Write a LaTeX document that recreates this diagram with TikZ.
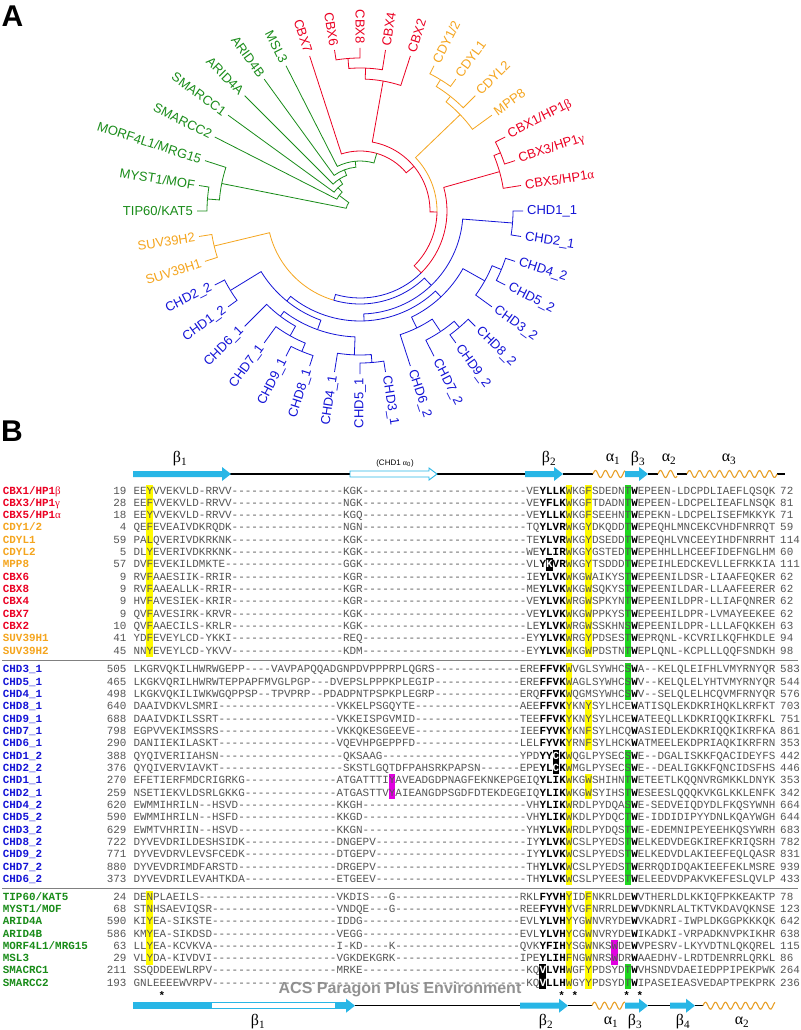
\documentclass[tikz,border=0pt]{standalone}
\usepackage{fontspec}
\setmainfont{Liberation Sans}
\setmonofont{Liberation Mono}
\newfontfamily\grk{Liberation Serif}
\definecolor{cR}{RGB}{235,0,35}
\definecolor{cO}{RGB}{245,165,30}
\definecolor{cG}{RGB}{25,140,25}
\definecolor{cB}{RGB}{20,20,215}
\definecolor{cCy}{RGB}{40,182,230}
\definecolor{hY}{RGB}{255,250,0}
\definecolor{hG}{RGB}{30,215,30}
\definecolor{hM}{RGB}{225,0,225}
\definecolor{sq}{RGB}{85,85,85}
\definecolor{wv}{RGB}{232,160,40}
\ExplSyntaxOn
\cs_new:Npn \dsh #1 { \prg_replicate:nn {#1} {-\kern0pt} }
\ExplSyntaxOff
\newcommand\bb[1]{{\bfseries\color{black}#1}}
\newcommand\wb[1]{{\bfseries\color{white}#1}}
\newcommand\gb[1]{{\grk\mdseries #1}}
\tikzset{
 tline/.style={line width=0.8pt},
 tlab/.style={font=\fontsize{13}{13}\selectfont, inner sep=0pt},
 alab/.style={anchor=base west, inner sep=0pt, font=\ttfamily\bfseries\fontsize{10.9}{12}\selectfont, yshift=-3.3pt},
 anum/.style={anchor=base east, inner sep=0pt, text=sq, font=\ttfamily\fontsize{10.9}{12}\selectfont, yshift=-3.3pt},
 aseq/.style={anchor=base west, inner sep=0pt, text=sq, font=\ttfamily\fontsize{10.915}{12}\selectfont, yshift=-3.3pt},
 aend/.style={anchor=base west, inner sep=0pt, text=sq, font=\ttfamily\fontsize{10.9}{12}\selectfont, yshift=-3.3pt},
 sslab/.style={inner sep=0pt, font=\grk\fontsize{16}{16}\selectfont},
 panel/.style={inner sep=0pt, font=\bfseries\fontsize{30}{30}\selectfont},
}
% tree connector: color, child angle, child radius, node angle, node radius
\newcommand\lk[5]{\draw[tline,#1] ([shift={(#2:#3pt)}]C) -- ([shift={(#2:#5pt)}]C) arc[start angle=#2, end angle=#4, radius=#5pt];}
% alignment row
\newcommand\arow[7]{%
 \node[alab, text=#3] (#1l) at (2.7,-#2) {#4};
 \node[anum] (#1n) at (126.7,-#2) {#5};
 \node[aseq] (#1s) at (133.3,-#2) {#6};
 \node[aend] (#1e) at (780,-#2) {#7};}
\newcommand\hl[4]{\fill[#1] ({133.3+6.55*#2},{-#3+6.2}) rectangle ({133.3+6.55*(#2+1)},{-#4-6.2});}
\newcommand\sarr[3]{\fill[cCy] (#1,{#3+3}) -- ({#2-9},{#3+3}) -- ({#2-9},{#3+7}) -- (#2,#3) -- ({#2-9},{#3-7}) -- ({#2-9},{#3-3}) -- (#1,{#3-3}) -- cycle;}
\newcommand\oarr[3]{\draw[cCy, fill=white, line width=0.9pt] (#1,{#3+3}) -- ({#2-8},{#3+3}) -- ({#2-8},{#3+6}) -- (#2,#3) -- ({#2-8},{#3-6}) -- ({#2-8},{#3-3}) -- (#1,{#3-3}) -- cycle;}
\newcommand\wave[3]{\draw[wv, line width=1.1pt] plot[variable=\t, domain=#1:#2, samples=90, smooth] (\t,{#3+3.5*sin(36*(\t-#1))});}
\newcommand\bln[3]{\draw[black, line width=1.3pt] (#1,#3) -- (#2,#3);}
\begin{document}
\begin{tikzpicture}[x=1pt,y=1pt]
\useasboundingbox (0,0) rectangle (800,-1030);
\fill[white] (0,0) rectangle (800,-1030);
\coordinate (C) at (360,-211);
\node[panel] (pA) at (12.5,-16.5) {A};
\node[panel] (pB) at (12,-431.5) {B};
% ---------------- tree ----------------
% green terminal
\lk{cG}{180}{163}{175.5}{153} \lk{cG}{171}{163}{175.5}{153}
\lk{cG}{175.5}{153}{168.75}{141} \lk{cG}{162}{163}{168.75}{141}
% red Pc
\lk{cR}{99}{163}{94.5}{153} \lk{cR}{90}{163}{94.5}{153}
\lk{cR}{94.5}{153}{87.75}{143} \lk{cR}{81}{163}{87.75}{143}
\lk{cR}{87.75}{143}{79.9}{132} \lk{cR}{72}{163}{79.9}{132}
% orange CDY
\lk{cO}{63}{163}{58.5}{154} \lk{cO}{54}{163}{58.5}{154}
\lk{cO}{58.5}{154}{51.75}{146} \lk{cO}{45}{163}{51.75}{146}
\lk{cO}{51.75}{146}{43.9}{139} \lk{cO}{36}{163}{43.9}{139}
% HP1
\lk{cR}{27}{163}{22.5}{152} \lk{cR}{18}{163}{22.5}{152}
\lk{cR}{22.5}{152}{15.75}{145} \lk{cR}{9}{163}{15.75}{145}
% blue terminal clades
\lk{cB}{0}{163}{-4.5}{153} \lk{cB}{-9}{163}{-4.5}{153}
\lk{cB}{-18}{163}{-22.5}{153} \lk{cB}{-27}{163}{-22.5}{153}
\lk{cB}{-22.5}{153}{-29.25}{143} \lk{cB}{-36}{163}{-29.25}{143}
\lk{cB}{-45}{163}{-49.5}{153} \lk{cB}{-54}{163}{-49.5}{153}
\lk{cB}{-49.5}{153}{-56.25}{145} \lk{cB}{-63}{163}{-56.25}{145}
\lk{cB}{-56.25}{145}{-64.1}{130} \lk{cB}{-72}{163}{-64.1}{130}
\lk{cB}{-81}{163}{-85.5}{152} \lk{cB}{-90}{163}{-85.5}{152}
\lk{cB}{-85.5}{152}{-92.25}{144} \lk{cB}{-99}{163}{-92.25}{144}
\lk{cB}{-108}{163}{-112.5}{152} \lk{cB}{-117}{163}{-112.5}{152}
\lk{cB}{-112.5}{152}{-119.25}{143} \lk{cB}{-126}{163}{-119.25}{143}
\lk{cB}{-119.25}{143}{-127.1}{132} \lk{cB}{-135}{163}{-127.1}{132}
\lk{cB}{-144}{163}{-148.5}{152} \lk{cB}{-153}{163}{-148.5}{152}
% blue deeper
\lk{cB}{-92.25}{144}{-109.7}{126} \lk{cB}{-127.1}{132}{-109.7}{126}
\lk{cB}{-29.25}{143}{-46.7}{118} \lk{cB}{-64.1}{130}{-46.7}{118}
\lk{cB}{-109.7}{126}{-129.1}{116} \lk{cB}{-148.5}{152}{-129.1}{116}
\lk{cB}{-46.7}{118}{-87.9}{110} \lk{cB}{-129.1}{116}{-87.9}{110}
\lk{cB}{-4.5}{153}{-46.2}{103} \lk{cB}{-87.9}{110}{-46.2}{103}
% SUV39 + blue
\lk{cO}{-162}{163}{-166.5}{150} \lk{cO}{-171}{163}{-166.5}{150}
\lk{cO}{-166.5}{150}{-106.35}{93} \lk{cB}{-46.2}{103}{-106.35}{93}
% HP1 + rest
\lk{cR}{15.75}{145}{-45.3}{87} \lk{cB}{-106.35}{93}{-45.3}{87}
% CDY + rest
\lk{cO}{43.9}{139}{-0.7}{77} \lk{cR}{-45.3}{87}{-0.7}{77}
% Pc (CBX6/8/4/2) + rest
\lk{cR}{79.9}{132}{39.6}{70} \lk{cR}{-0.7}{77}{39.6}{70}
% CBX7 + rest
\lk{cR}{108}{163}{73.8}{60} \lk{cR}{39.6}{70}{73.8}{60}
% green successive outgroups
\lk{cG}{117}{163}{95.4}{50} \lk{cG}{73.8}{60}{95.4}{50}
\lk{cG}{126}{163}{110.7}{44} \lk{cG}{95.4}{50}{110.7}{44}
\lk{cG}{135}{163}{122.85}{38} \lk{cG}{110.7}{44}{122.85}{38}
\lk{cG}{144}{163}{133.4}{32} \lk{cG}{122.85}{38}{133.4}{32}
\lk{cG}{153}{163}{143.2}{26} \lk{cG}{133.4}{32}{143.2}{26}
\lk{cG}{168.75}{141}{156}{14} \lk{cG}{143.2}{26}{156}{14}
% labels right half
\foreach \ang/\clr/\lbl [count=\i] in {81/cR/CBX4,72/cR/CBX2,63/cO/{CDY1/2},54/cO/CDYL1,45/cO/CDYL2,36/cO/MPP8,
 27/cR/{CBX1/HP1\gb{β}},18/cR/{CBX3/HP1\gb{γ}},9/cR/{CBX5/HP1\gb{α}},0/cB/CHD1\_1,-9/cB/CHD2\_1,-18/cB/CHD4\_2,
 -27/cB/CHD5\_2,-36/cB/CHD3\_2,-45/cB/CHD8\_2,-54/cB/CHD9\_2,-63/cB/CHD7\_2,-72/cB/CHD6\_2,-81/cB/CHD3\_1}
 {\node[tlab, text=\clr, rotate=\ang, anchor=west] (tr\i) at ([shift={(\ang:167pt)}]C) {\lbl};}
% labels left half
\foreach \ang/\clr/\lbl [count=\i] in {90/cR/CBX8,99/cR/CBX6,108/cR/CBX7,117/cG/MSL3,126/cG/ARID4B,135/cG/ARID4A,
 144/cG/SMARCC1,153/cG/SMARCC2,162/cG/{MORF4L1/MRG15},171/cG/{MYST1/MOF},180/cG/{TIP60/KAT5},189/cO/SUV39H2,
 198/cO/SUV39H1,207/cB/CHD2\_2,216/cB/CHD1\_2,225/cB/CHD6\_1,234/cB/CHD7\_1,243/cB/CHD9\_1,252/cB/CHD8\_1,
 261/cB/CHD4\_1,270/cB/CHD5\_1}
 {\node[tlab, text=\clr, rotate=\ang+180, anchor=east] (tl\i) at ([shift={(\ang:167pt)}]C) {\lbl};}
% ---------------- secondary structure top ----------------
\bln{228}{350}{-474} \bln{437}{525}{-474} \bln{563}{593}{-474} \bln{648}{658}{-474} \bln{677}{687}{-474} \bln{777}{785}{-474}
\sarr{133}{231}{-474}
\oarr{350}{437}{-474}
\sarr{525}{563}{-474}
\wave{593}{625}{-474}
\sarr{625}{648}{-474}
\wave{658}{677}{-474}
\wave{687}{777}{-474}
\node[sslab] (s1) at (180,-459) {β\textsubscript{1}};
\node[inner sep=0pt, font=\fontsize{8}{8}\selectfont] (s0) at (395,-463) {(CHD1 \gb{α}\textsubscript{0})};
\node[sslab] (s2) at (549,-459) {β\textsubscript{2}};
\node[sslab] (s3) at (613,-459) {α\textsubscript{1}};
\node[sslab] (s4) at (638,-459) {β\textsubscript{3}};
\node[sslab] (s5) at (669,-459) {α\textsubscript{2}};
\node[sslab] (s6) at (729,-459) {α\textsubscript{3}};
% ---------------- highlights ----------------
\hl{hY}{2}{490.7}{650.99} \hl{hY}{66}{490.7}{650.99} \hl{hY}{69}{490.7}{650.99} \hl{hG}{75}{490.7}{650.99}
\hl{black}{63}{564.68}{564.68}
\hl{hY}{66}{669.5}{879.11} \hl{hY}{69}{706.49}{743.48} \hl{hY}{69}{780.47}{792.8}
\hl{hG}{75}{669.5}{694.16} \hl{hG}{75}{755.81}{879.11}
\hl{black}{64}{755.81}{768.14} \hl{hM}{39}{780.47}{792.8}
\hl{hY}{2}{896.7}{958.35} \hl{hY}{66}{896.7}{983.01} \hl{hY}{69}{896.7}{983.01}
\hl{hG}{75}{970.68}{983.01} \hl{hM}{73}{946.02}{958.35} \hl{black}{62}{970.68}{983.01}
\draw[gray, line width=0.8pt] (2,-660.3) -- (798,-660.3);
\draw[gray, line width=0.8pt] (2,-887.9) -- (798,-887.9);
% ---------------- group 1 ----------------
\arow{a1}{490.7}{cR}{CBX1/HP1\gb{β}}{19}{EEYVVEKVLD-RRVV\dsh{17}KGK\dsh{25}VE\bb{YLLK}WKGFSDEDNT\bb{W}EPEEN-LDCPDLIAEFLQSQK}{72}
\arow{a2}{503.03}{cR}{CBX3/HP1\gb{γ}}{28}{EEFVVEKVLD-RRVV\dsh{17}NGK\dsh{25}VE\bb{YFLK}WKGFTDADNT\bb{W}EPEEN-LDCPELIEAFLNSQK}{81}
\arow{a3}{515.36}{cR}{CBX5/HP1\gb{α}}{18}{EEYVVEKVLD-RRVV\dsh{17}KGQ\dsh{25}VE\bb{YLLK}WKGFSEEHNT\bb{W}EPEKN-LDCPELISEFMKKYK}{71}
\arow{a4}{527.69}{cO}{CDY1/2}{4}{QEFEVEAIVDKRQDK\dsh{17}NGN\dsh{25}TQ\bb{YLVR}WKGYDKQDDT\bb{W}EPEQHLMNCEKCVHDFNRRQT}{59}
\arow{a5}{540.02}{cO}{CDYL1}{59}{PALQVERIVDKRKNK\dsh{17}KGK\dsh{25}TE\bb{YLVR}WKGYDSEDDT\bb{W}EPEQHLVNCEEYIHDFNRRHT}{114}
\arow{a6}{552.35}{cO}{CDYL2}{5}{DLYEVERIVDKRKNK\dsh{17}KGK\dsh{25}WE\bb{YLIR}WKGYGSTEDT\bb{W}EPEHHLLHCEEFIDEFNGLHM}{60}
\arow{a7}{564.68}{cO}{MPP8}{57}{DVFEVEKILDMKTE-\dsh{17}GGK\dsh{25}VL\bb{Y}\wb{K}\bb{VR}WKGYTSDDDT\bb{W}EPEIHLEDCKEVLLEFRKKIA}{111}
\arow{a8}{577.01}{cR}{CBX6}{9}{RVFAAESIIK-RRIR\dsh{17}KGR\dsh{25}IE\bb{YLVK}WKGWAIKYST\bb{W}EPEENILDSR-LIAAFEQKER}{62}
\arow{a9}{589.34}{cR}{CBX8}{9}{RVFAAEALLK-RRIR\dsh{17}KGR\dsh{25}ME\bb{YLVK}WKGWSQKYST\bb{W}EPEENILDAR-LLAAFEERER}{62}
\arow{a10}{601.67}{cR}{CBX4}{9}{HVFAVESIEK-KRIR\dsh{17}KGR\dsh{25}VE\bb{YLVK}WRGWSPKYNT\bb{W}EPEENILDPR-LLIAFQNRER}{62}
\arow{a11}{614.0}{cR}{CBX7}{9}{QVFAVESIRK-KRVR\dsh{17}KGK\dsh{25}VE\bb{YLVK}WKGWPPKYST\bb{W}EPEEHILDPR-LVMAYEEKEE}{62}
\arow{a12}{626.33}{cR}{CBX2}{10}{QVFAAECILS-KRLR\dsh{17}KGK\dsh{25}LE\bb{YLVK}WRGWSSKHNS\bb{W}EPEENILDPR-LLLAFQKKEH}{63}
\arow{a13}{638.66}{cO}{SUV39H1}{41}{YDFEVEYLCD-YKKI\dsh{17}REQ\dsh{25}EY\bb{YLVK}WRGYPDSEST\bb{W}EPRQNL-KCVRILKQFHKDLE}{94}
\arow{a14}{650.99}{cO}{SUV39H2}{45}{NNYEVEYLCD-YKVV\dsh{17}KDM\dsh{25}EY\bb{YLVK}WKGWPDSTNT\bb{W}EPLQNL-KCPLLLQQFSNDKH}{98}
% ---------------- group 2 ----------------
\arow{b1}{669.5}{cB}{CHD3\_1}{505}{LKGRVQKILHWRWGEPP\dsh{4}VAVPAPQQADGNPDVPPPRPLQGRS\dsh{13}ERE\bb{FFVK}WVGLSYWHCS\bb{W}A\dsh{2}KELQLEIFHLVMYRNYQR}{583}
\arow{b2}{681.83}{cB}{CHD5\_1}{465}{LKGKVQRILHWRWTEPPAPFMVGLPGP\dsh{3}DVEPSLPPPKPLEGIP\dsh{13}ERE\bb{FFVK}WAGLSYWHCS\bb{W}V\dsh{2}KELQLELYHTVMYRNYQR}{544}
\arow{b3}{694.16}{cB}{CHD4\_1}{498}{LKGKVQKILIWKWGQPPSP\dsh{2}TPVPRP\dsh{2}PDADPNTPSPKPLEGRP\dsh{13}ERQ\bb{FFVK}WQGMSYWHCS\bb{W}V\dsh{2}SELQLELHCQVMFRNYQR}{576}
\arow{b4}{706.49}{cB}{CHD8\_1}{640}{DAAIVDKVLSMRI\dsh{18}VKKELPSGQYTE\dsh{16}AEE\bb{FFVK}YKNYSYLHCE\bb{W}ATISQLEKDKRIHQKLKRFKT}{703}
\arow{b5}{718.82}{cB}{CHD9\_1}{688}{DAAIVDKILSSRT\dsh{18}VKKEISPGVMID\dsh{16}TEE\bb{FFVK}YKNYSYLHCE\bb{W}ATEEQLLKDKRIQQKIKRFKL}{751}
\arow{b6}{731.15}{cB}{CHD7\_1}{798}{EGPVVEKIMSSRS\dsh{18}VKKQKESGEEVE\dsh{16}IEE\bb{FYVK}YKNFSYLHCQ\bb{W}ASIEDLEKDKRIQQKIKRFKA}{861}
\arow{b7}{743.48}{cB}{CHD6\_1}{290}{DANIIEKILASKT\dsh{18}VQEVHPGEPPFD\dsh{16}LEL\bb{FYVK}YRNFSYLHCK\bb{W}ATMEELEKDPRIAQKIKRFRN}{353}
\arow{b8}{755.81}{cB}{CHD1\_2}{388}{QYQIVERIIAHSN\dsh{19}QKSAAG\dsh{21}YPD\bb{YY}\wb{C}\bb{K}WQGLPYSECS\bb{W}E\dsh{2}DGALISKKFQACIDEYFS}{442}
\arow{b9}{768.14}{cB}{CHD2\_2}{376}{QYQIVERVIAVKT\dsh{19}SKSTLGQTDFPAHSRKPAPSN\dsh{6}EPE\bb{YL}\wb{C}\bb{K}WMGLPYSECS\bb{W}E\dsh{2}DEALIGKKFQNCIDSFHS}{446}
\arow{b10}{780.47}{cB}{CHD1\_1}{270}{EFETIERFMDCRIGRKG\dsh{14}ATGATTTIYAVEADGDPNAGFEKNKEPGEIQ\bb{YLIK}WKGWSHIHNT\bb{W}ETEETLKQQNVRGMKKLDNYK}{353}
\arow{b11}{792.8}{cB}{CHD2\_1}{259}{NSETIEKVLDSRLGKKG\dsh{14}ATGASTTVYAIEANGDPSGDFDTEKDEGEIQ\bb{YLIK}WKGWSYIHST\bb{W}ESEESLQQQKVKGLKKLENFK}{342}
\arow{b12}{805.13}{cB}{CHD4\_2}{620}{EWMMIHRILN\dsh{2}HSVD\dsh{15}KKGH\dsh{25}VH\bb{YLIK}WRDLPYDQAS\bb{W}E-SEDVEIQDYDLFKQSYWNH}{664}
\arow{b13}{817.46}{cB}{CHD5\_2}{590}{EWMMIHRILN\dsh{2}HSFD\dsh{15}KKGD\dsh{25}VH\bb{YLIK}WKDLPYDQCT\bb{W}E-IDDIDIPYYDNLKQAYWGH}{644}
\arow{b14}{829.79}{cB}{CHD3\_2}{629}{EWMTVHRIIN\dsh{2}HSVD\dsh{15}KKGN\dsh{25}YH\bb{YLVK}WRDLPYDQST\bb{W}E-EDEMNIPEYEEHKQSYWRH}{683}
\arow{b15}{842.12}{cB}{CHD8\_2}{722}{DYVEVDRILDESHSIDK\dsh{14}DNGEPV\dsh{23}IY\bb{YLVK}WCSLPYEDST\bb{W}ELKEDVDEGKIREFKRIQSRH}{782}
\arow{b16}{854.45}{cB}{CHD9\_2}{771}{DYVEVDRVLEVSFCEDK\dsh{14}DTGEPV\dsh{23}IY\bb{YLVK}WCSLPYEDST\bb{W}ELKEDVDLAKIEEFEQLQASR}{831}
\arow{b17}{866.78}{cB}{CHD7\_2}{880}{DYVEVDRIMDFARSTD\dsh{15}DRGEPV\dsh{23}TH\bb{YLVK}WCSLPYEDST\bb{W}ERRQDIDQAKIEEFEKLMSRE}{939}
\arow{b18}{879.11}{cB}{CHD6\_2}{373}{DYVEVDRILEVAHTKDA\dsh{14}ETGEEV\dsh{23}TH\bb{YLVK}WCSLPYEEST\bb{W}ELEEDVDPAKVKEFESLQVLP}{433}
% ---------------- group 3 ----------------
\arow{c1}{896.7}{cG}{TIP60/KAT5}{24}{DENPLAEILS\dsh{21}VKDIS\dsh{3}G\dsh{19}RKL\bb{FYVH}YIDFNKRLDE\bb{W}VTHERLDLKKIQFPKKEAKTP}{78}
\arow{c2}{909.03}{cG}{MYST1/MOF}{68}{STNHSAEVIQSR\dsh{19}VNDQE\dsh{3}G\dsh{19}REE\bb{FYVH}YVGFNRRLDE\bb{W}VDKNRLALTKTVKDAVQKNSE}{123}
\arow{c3}{921.36}{cG}{ARID4A}{590}{KIYEA-SIKSTE\dsh{19}IDDG\dsh{24}EVL\bb{YLVH}YYGWNVRYDE\bb{W}VKADRI-IWPLDKGGPKKKQK}{642}
\arow{c4}{933.69}{cG}{ARID4B}{586}{KMYEA-SIKDSD\dsh{19}VEGG\dsh{24}EVL\bb{YLVH}YCGWNVRYDE\bb{W}IKADKI-VRPADKNVPKIKHR}{638}
\arow{c5}{946.02}{cG}{MORF4L1/MRG15}{63}{LLYEA-KCVKVA\dsh{19}I-KD\dsh{4}K\dsh{19}QVK\bb{YFIH}YSGWNKSWDE\bb{W}VPESRV-LKYVDTNLQKQREL}{115}
\arow{c6}{958.35}{cG}{MSL3}{29}{VLYDA-KIVDVI\dsh{19}VGKDEKGRK\dsh{19}IPE\bb{YLIH}FNGWNRSWDR\bb{W}AAEDHV-LRDTDENRRLQRKL}{86}
\arow{c7}{970.68}{cG}{SMACRC1}{211}{SSQDDEEWLRPV\dsh{19}MRKE\dsh{25}KQ\wb{V}\bb{LVH}WGFYPDSYDT\bb{W}VHSNDVDAEIEDPPIPEKPWK}{264}
\arow{c8}{983.01}{cG}{SMARCC2}{193}{GNLEEEEWVRPV\dsh{48}KQ\wb{V}\bb{LLH}WGYYPDSYDT\bb{W}IPASEIEASVEDAPTPEKPRK}{236}
\node[inner sep=0pt, font=\bfseries\fontsize{16}{16}\selectfont, text=gray!95, opacity=0.9] (wm) at (400,-989) {ACS Paragon Plus Environment};
% asterisks
\foreach \xx [count=\i] in {162,561.7,575,626.7,640}
 {\node[inner sep=0pt, font=\ttfamily\bfseries\fontsize{11}{11}\selectfont] (ast\i) at (\xx,-996) {*};}
% ---------------- secondary structure bottom ----------------
\bln{355}{520}{-1005.7} \bln{568}{592}{-1005.7} \bln{648}{670}{-1005.7} \bln{695}{703}{-1005.7}
\draw[cCy, fill=white, line width=0.9pt] (133,-1002.7) rectangle (346,-1008.7);
\fill[cCy] (133,-1002.7) rectangle (212,-1008.7);
\sarr{335}{355}{-1005.7}
\sarr{520}{568}{-1005.7}
\wave{592}{625}{-1005.7}
\sarr{625}{648}{-1005.7}
\sarr{670}{695}{-1005.7}
\wave{703}{775}{-1005.7}
\node[sslab] (u1) at (258,-1022) {β\textsubscript{1}};
\node[sslab] (u2) at (546,-1022) {β\textsubscript{2}};
\node[sslab] (u3) at (611,-1022) {α\textsubscript{1}};
\node[sslab] (u4) at (635,-1022) {β\textsubscript{3}};
\node[sslab] (u5) at (683,-1022) {β\textsubscript{4}};
\node[sslab] (u6) at (742,-1022) {α\textsubscript{2}};
\end{tikzpicture}
\end{document}
